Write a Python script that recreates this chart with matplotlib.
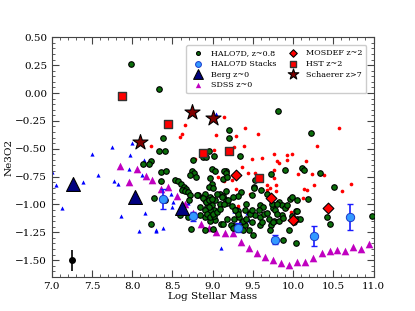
import matplotlib
matplotlib.use("Agg")
import matplotlib.pyplot as plt
from matplotlib.ticker import MultipleLocator
import numpy as np

plt.rcParams['font.family'] = ['DejaVu Serif']

# HALO7D individual galaxies
halo_x = [7.99, 8.33, 8.38, 8.33, 8.41, 8.75, 8.88, 8.92, 8.95, 9.02, 9.34, 9.81, 10.22, 9.20, 9.20,
          8.23, 8.13, 8.21, 8.36, 8.355, 8.27, 8.23, 8.42, 8.53, 8.57, 8.74, 8.77, 8.79, 8.72, 8.99,
          9.03, 8.97, 8.99, 8.60, 8.64, 8.67, 8.62, 8.65, 8.69, 8.72, 8.71, 8.82, 8.885, 8.91, 8.95,
          8.97, 8.99, 8.93, 9.03, 9.09, 9.13, 9.17, 9.09, 9.02, 8.95, 8.99, 8.91, 9.03, 8.97, 8.41,
          8.59, 8.69, 8.84, 8.73, 8.91, 9.01, 9.10, 9.18, 9.16, 9.895, 9.52, 9.60, 9.35, 9.32, 9.18,
          9.24, 9.42, 9.68, 9.82, 9.96, 9.99, 10.05, 9.59, 9.63, 9.57, 9.75, 9.78, 9.86, 9.895, 9.29,
          9.32, 9.40, 9.47, 9.26, 9.13, 9.53, 9.585, 9.635, 9.70, 9.76, 9.83, 9.86, 9.88, 10.05, 9.36,
          9.40, 9.49, 9.585, 9.61, 9.72, 9.75, 9.945, 9.71, 9.50, 9.26, 10.11, 10.14, 10.33, 10.51, 10.03,
          9.99, 10.01, 10.09, 10.42, 10.46, 10.04, 10.98, 10.19, 9.14, 9.17, 9.13, 9.18, 8.95, 9.01, 8.91,
          9.05, 8.97, 9.49, 9.51, 9.72, 9.53, 9.93, 9.74, 9.80, 9.67, 9.80, 10.05, 9.38, 9.45, 9.88,
          9.23, 9.25, 8.81, 8.84, 8.885, 8.92, 8.95, 8.99, 8.96, 8.91, 8.93, 8.97, 9.02, 9.01, 9.05,
          9.09, 9.14, 9.12, 9.19, 9.16, 9.25, 9.33, 9.38, 9.42, 9.47, 9.49, 9.31, 9.28]
halo_y = [0.264, 0.033, -0.404, -0.524, -0.524, -0.598, -0.575, -0.575, -0.521, -0.562, -0.562, -0.162, -0.36, -0.335, -0.404,
          -0.611, -0.634, -0.634, -0.71, -0.793, -0.94, -1.18, -0.703, -0.778, -0.79, -0.70, -0.72, -0.755, -0.74, -0.68,
          -0.70, -0.76, -0.814, -0.82, -0.844, -0.859, -0.874, -0.883, -0.889, -0.919, -0.964, -0.919, -0.934, -0.964, -0.994,
          -0.934, -1.009, -1.024, -0.964, -0.904, -0.928, -0.964, -0.994, -1.054, -1.099, -1.128, -1.114, -1.144, -1.15, -0.958,
          -1.099, -1.114, -1.099, -1.224, -1.233, -1.218, -1.173, -1.128, -0.703, -0.694, -0.844, -0.874, -0.889, -0.925, -0.988,
          -1.018, -0.994, -0.91, -0.979, -0.949, -0.934, -0.964, -1.009, -1.024, -1.047, -1.029, -1.054, -1.009, -1.029, -1.054,
          -1.063, -1.054, -1.078, -1.128, -1.173, -1.099, -1.114, -1.09, -1.128, -1.15, -1.15, -1.099, -1.119, -1.128, -1.159,
          -1.188, -1.159, -1.188, -1.159, -1.188, -1.159, -1.233, -1.227, -1.272, -1.197, -0.674, -0.694, -0.719, -0.844, -1.063,
          -1.108, -1.159, -1.135, -1.117, -1.18, -1.344, -1.108, -0.949, -0.70, -0.719, -0.769, -0.755, -0.844, -0.85, -0.904,
          -0.904, -1.054, -0.919, -0.85, -0.724, -0.778, -1.009, -1.0, -0.994, -1.078, -1.09, -1.06, -1.227, -1.233, -1.317,
          -1.188, -1.209, -0.919, -1.024, -0.94, -0.979, -0.96, -0.95, -1.02, -1.047, -1.09, -1.11, -1.10, -1.084, -1.069,
          -1.04, -1.0, -0.93, -0.96, -0.88, -0.934, -1.114, -1.15, -1.13, -1.09, -1.054, -1.084, -1.054]

# HALO7D stacks
stack_x = [8.38, 8.76, 9.32, 9.78, 10.26, 10.71]
stack_y = [-0.95, -1.105, -1.21, -1.317, -1.287, -1.114]
stack_err = [0.09, 0.04, 0.04, 0.04, 0.09, 0.117]

# Berg z~0 (large triangles)
berg_x = [7.26, 8.03, 8.62]
berg_y = [-0.814, -0.934, -1.03]

# small blue triangles (individual low-mass galaxies)
blue_x = [7.0, 7.05, 7.12, 7.39, 7.50, 7.57, 7.75, 7.77, 7.82, 7.86, 7.97, 7.96, 8.0, 8.12, 8.15,
          8.16, 8.08, 8.29, 8.48, 8.51, 8.50, 8.29, 8.38, 8.69, 9.10, 9.45, 9.26, 9.43, 9.32, 9.04]
blue_y = [-0.71, -0.83, -1.03, -0.80, -0.545, -0.74, -0.485, -0.79, -0.815, -1.10, -0.56, -0.685, -0.45, -0.74, -0.605,
          -1.075, -1.235, -1.235, -0.905, -0.98, -1.02, -1.23, -1.215, -0.99, -1.39, -1.14, -1.06, -1.08, -1.01, -0.19]

# SDSS z~0
sdss_x = [7.85, 7.96, 8.055, 8.17, 8.25, 8.36, 8.45, 8.55, 8.66, 8.75, 8.85, 8.95, 9.04, 9.15, 9.25,
          9.35, 9.45, 9.55, 9.65, 9.75, 9.85, 9.95, 10.05, 10.15, 10.25, 10.36, 10.455, 10.55, 10.65, 10.75,
          10.85, 10.95]
sdss_y = [-0.656, -0.80, -0.68, -0.745, -0.784, -0.86, -0.845, -0.925, -1.0, -1.08, -1.18, -1.21, -1.25, -1.26, -1.26,
          -1.34, -1.39, -1.44, -1.47, -1.50, -1.527, -1.54, -1.52, -1.52, -1.48, -1.44, -1.42, -1.41, -1.42, -1.38,
          -1.40, -1.36]

# MOSDEF individual (small red points)
mosdef_ind_x = [9.135, 9.405, 9.04, 9.29, 9.56, 9.385, 9.26, 9.02, 10.30, 10.57, 9.49, 9.61, 9.76, 9.99, 8.65,
                8.62, 8.595, 8.23, 9.80, 9.82, 9.93, 9.36, 9.44, 9.525, 9.76, 10.06, 9.135, 9.24, 9.51, 9.68,
                9.71, 9.76, 9.79, 9.29, 9.79, 9.68, 9.92, 9.97, 10.165, 10.24, 10.34, 10.39, 10.265, 10.14, 10.17,
                10.72, 10.61, 9.93, 10.11, 10.12, 8.78, 9.07, 9.13, 9.135, 9.31, 9.47]
mosdef_ind_y = [-0.216, -0.315, -0.375, -0.39, -0.37, -0.476, -0.485, -0.51, -0.48, -0.31, -0.59, -0.584, -0.55, -0.545, -0.29,
                -0.365, -0.395, -0.476, -0.61, -0.63, -0.605, -0.665, -0.72, -0.715, -0.69, -0.73, -0.79, -0.78, -0.785, -0.83,
                -0.85, -0.76, -0.83, -0.86, -0.88, -0.87, -1.03, -1.07, -0.61, -0.725, -0.73, -0.733, -0.83, -0.86, -0.87,
                -0.82, -0.88, -0.56, -0.67, -0.94, -0.59, -0.75, -0.78, -0.705, -1.01, -0.91]

# MOSDEF z~2 stacks
mosdef_x = [9.29, 9.72, 10.0, 10.435]
mosdef_y = [-0.74, -0.94, -1.14, -1.03]

# HST z~2
hst_x = [7.87, 8.45, 8.885, 9.20, 9.58]
hst_y = [-0.03, -0.28, -0.54, -0.52, -0.76]

# Schaerer z>7
sch_x = [8.10, 8.74, 9.00]
sch_y = [-0.44, -0.17, -0.22]

# typical error
err_x, err_y, err_e = 7.245, -1.503, 0.097

fig = plt.figure(figsize=(4.15, 3.11), dpi=100)
ax = fig.add_axes([0.125, 0.11, 0.775, 0.77])

ax.scatter(blue_x, blue_y, marker='^', s=9, color='blue', linewidths=0, zorder=2)
ax.scatter(sdss_x, sdss_y, marker='^', s=30, color='#c000c0', linewidths=0, zorder=2)
ax.scatter(mosdef_ind_x, mosdef_ind_y, marker='o', s=7, color='red', linewidths=0, zorder=2)
ax.scatter(halo_x, halo_y, marker='o', s=16, facecolor='#0a6e0a', edgecolor='black', linewidths=0.8, zorder=3,
           label='HALO7D, z~0.8')
ax.errorbar(stack_x, stack_y, yerr=stack_err, fmt='none', ecolor='#1a1aff', elinewidth=1.2, capsize=2.5, zorder=4)
ax.scatter(stack_x, stack_y, marker='o', s=36, facecolor='#3399ff', edgecolor='#1a3acc', linewidths=0.7, zorder=5,
           label='HALO7D Stacks')
ax.scatter(berg_x, berg_y, marker='^', s=100, facecolor='#000080', edgecolor='black', linewidths=0.8, zorder=5,
           label='Berg z~0')
ax.scatter([], [], marker='^', s=30, color='#c000c0', linewidths=0, label='SDSS z~0')
ax.scatter(mosdef_x, mosdef_y, marker='D', s=30, facecolor='red', edgecolor='black', linewidths=0.8, zorder=5,
           label='MOSDEF z~2')
ax.scatter(hst_x, hst_y, marker='s', s=36, facecolor='red', edgecolor='#333333', linewidths=1.0, zorder=5,
           label='HST z~2')
ax.scatter(sch_x, sch_y, marker='*', s=130, facecolor='#800000', edgecolor='black', linewidths=0.8, zorder=5,
           label='Schaerer z>7')
ax.errorbar([err_x], [err_y], yerr=[err_e], fmt='o', color='black', ms=4, elinewidth=1.2, zorder=5)

ax.set_xlim(7.0, 11.0)
ax.set_ylim(-1.65, 0.5)
ax.xaxis.set_major_locator(MultipleLocator(0.5))
ax.xaxis.set_minor_locator(MultipleLocator(0.1))
ax.yaxis.set_major_locator(MultipleLocator(0.25))
ax.yaxis.set_minor_locator(MultipleLocator(0.05))
ax.tick_params(which='both', direction='in', top=True, right=True, labelsize=7.5, color='#444444')
ax.tick_params(which='major', length=5)
ax.tick_params(which='minor', length=2.5)
for sp in ax.spines.values():
    sp.set_color('#444444')
ax.set_xlabel('Log Stellar Mass', fontsize=7.5, labelpad=1)
ax.set_ylabel('Ne3O2', fontsize=7.5, labelpad=1)

handles, labels = ax.get_legend_handles_labels()
order = ['HALO7D, z~0.8', 'HALO7D Stacks', 'Berg z~0', 'SDSS z~0', 'MOSDEF z~2', 'HST z~2', 'Schaerer z>7']
hmap = dict(zip(labels, handles))
leg = ax.legend([hmap[l] for l in order], order, loc='upper right', ncol=2, fontsize=5.8,
                markerscale=0.7, handletextpad=0.6, columnspacing=1.0, labelspacing=0.35,
                borderpad=0.5, framealpha=1.0, bbox_to_anchor=(0.99, 0.985))

fig.savefig('out.png', dpi=100)
